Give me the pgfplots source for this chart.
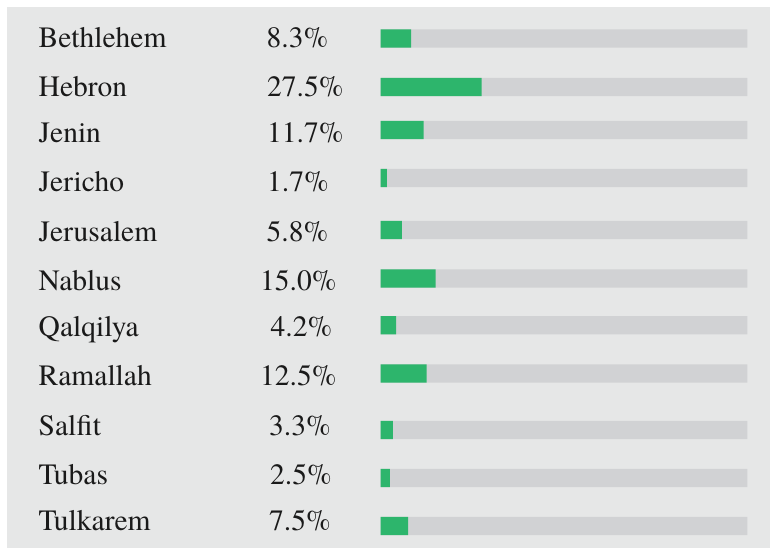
\documentclass[border=0pt]{standalone}
\usepackage{pgfplots}
\usepackage{pgfplotstable}
\pgfplotsset{compat=1.18}
\usepackage{fontspec}
\setmainfont{Liberation Serif}
\newfontfamily\tnr{TeX Gyre Termes}
\definecolor{panel}{RGB}{230,231,231}
\definecolor{track}{RGB}{209,210,212}
\definecolor{barg}{RGB}{45,181,108}
\definecolor{ink}{RGB}{26,26,26}
\pgfplotstableread{
name pct ybar ybase px
Bethlehem 8.3 38.5 47.7 266.5
Hebron 27.5 87 96.7 267
Jenin 11.7 130 142.3 267
Jericho 1.7 178 191 267
Jerusalem 5.8 230 241 266.5
Nablus 15.0 278.5 290.7 260
Qalqilya 4.2 325.3 336 270.5
Ramallah 12.5 373.5 385 260
Salfit 3.3 430 435 269
Tubas 2.5 478 484.3 270
Tulkarem 7.5 526 530 269
}\datatable
\begin{document}
\begin{tikzpicture}
\begin{axis}[
  scale only axis, width=770pt, height=548pt,
  xmin=-103.85, xmax=106.19, ymin=0, ymax=548, y dir=reverse,
  hide axis, clip=false,
  /pgf/number format/assume math mode=true,
]
\fill[white] (axis cs:-103.85,0) rectangle (axis cs:106.19,548);
\fill[panel] (axis cs:-101.94,7) rectangle (axis cs:106.19,548);
\addplot[xbar, bar width=18.3pt, bar shift=0pt, fill=track, draw=none]
  table[x expr=100, y=ybar] {\datatable};
\addplot[xbar, bar width=18.3pt, bar shift=0pt, fill=barg, draw=none]
  table[x=pct, y=ybar] {\datatable};
\addplot[draw=none, mark=none, nodes near coords, point meta=explicit symbolic,
  nodes near coords style={anchor=base west, inner sep=0pt, text=ink, font=\tnr\fontsize{29.5}{34}\selectfont}]
  table[x expr=(38.5-380.7)/3.666, y=ybase, meta=name] {\datatable};
\addplot[draw=none, mark=none, point meta=\thisrow{pct},
  nodes near coords={\pgfmathprintnumber[fixed,fixed zerofill,precision=1]{\pgfplotspointmeta}\%},
  nodes near coords style={anchor=base west, inner sep=0pt, text=ink, font=\tnr\fontsize{29.5}{34}\selectfont}]
  table[x expr=(\thisrow{px}-380.7)/3.666, y=ybase] {\datatable};
\end{axis}
\end{tikzpicture}
\end{document}
